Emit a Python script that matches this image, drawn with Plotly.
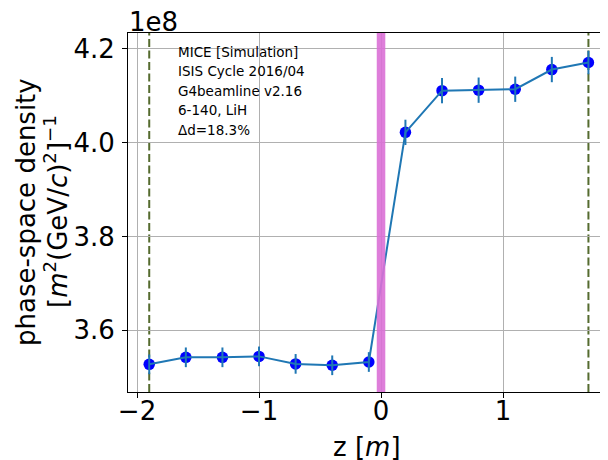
import plotly.graph_objects as go

# Data (phase-space density in units of 1e8)
z = [-1.9, -1.6, -1.3, -1.0, -0.7, -0.4, -0.1, 0.2, 0.5, 0.8, 1.1, 1.4, 1.7]
density = [3.527, 3.542, 3.542, 3.544, 3.528, 3.525, 3.532, 4.022, 4.111, 4.112, 4.114, 4.156, 4.171]
density_err = [0.021, 0.021, 0.021, 0.021, 0.021, 0.021, 0.021, 0.027, 0.027, 0.027, 0.027, 0.027, 0.025]
ref_planes = [-1.9, 1.7]
absorber = [-0.035, 0.035]
info_lines = ["MICE [Simulation]", "ISIS Cycle 2016/04", "G4beamline v2.16", "6-140, LiH", "Δd=18.3%"]
x_ticks = [-2, -1, 0, 1]
y_ticks = [3.6, 3.8, 4.0, 4.2]

OFF = 8  # page body margin
W, H = 608 - OFF, 460 - OFF
L, R, T, B = 128 - OFF, 2, 33 - OFF, 68
pw, ph = W - L - R, H - T - B
FONT = "DejaVu Sans"
C0 = "#1f77b4"

def px(xp):
    return (xp - OFF - L) / pw

def py(yp):
    return (H - B - (yp - OFF)) / ph

fig = go.Figure()
fig.add_trace(go.Scatter(x=z, y=density, mode="markers",
                         marker=dict(color="#0000ff", size=11.5, line=dict(width=0)),
                         showlegend=False))
fig.add_trace(go.Scatter(x=z, y=density, mode="lines",
                         line=dict(color=C0, width=2),
                         error_y=dict(type="data", array=density_err, color=C0, thickness=2, width=0),
                         showlegend=False))

shapes = []
for zp in ref_planes:
    shapes.append(dict(type="line", xref="x", yref="paper", x0=zp, x1=zp, y0=0, y1=1,
                       line=dict(color="#556b2f", width=2, dash="8px,3.5px"), layer="between"))
shapes.append(dict(type="rect", xref="x", yref="paper", x0=absorber[0], x1=absorber[1], y0=0, y1=1,
                   fillcolor="#da70d6", line=dict(width=0), layer="above", opacity=0.9))

annotations = []
ys = [51.5, 71, 90.5, 110, 129.5]
for t, yy in zip(info_lines, ys):
    annotations.append(dict(text=t, xref="paper", yref="paper", x=px(176), y=py(yy),
                            xanchor="left", yanchor="middle", showarrow=False,
                            font=dict(family=FONT, size=13.5, color="black")))
annotations.append(dict(text="1e8", xref="paper", yref="paper", x=px(127), y=py(22),
                        xanchor="left", yanchor="middle", showarrow=False,
                        font=dict(family=FONT, size=26, color="black")))
annotations.append(dict(text="phase-space density", xref="paper", yref="paper", x=px(26), y=py(212),
                        xanchor="center", yanchor="middle", textangle=-90, showarrow=False,
                        font=dict(family=FONT, size=26, color="black")))
annotations.append(dict(text="[<i>m</i><sup>2</sup>(GeV/<i>c</i>)<sup>2</sup>]<sup>−1</sup>",
                        xref="paper", yref="paper", x=px(56), y=py(212),
                        xanchor="center", yanchor="middle", textangle=-90, showarrow=False,
                        font=dict(family=FONT, size=26, color="black")))
annotations.append(dict(text="z [<i>m</i>]", xref="paper", yref="paper", x=px(367), y=py(447),
                        xanchor="center", yanchor="middle", showarrow=False,
                        font=dict(family=FONT, size=26, color="black")))

fig.update_layout(
    width=W, height=H,
    margin=dict(l=L, r=R, t=T, b=B),
    paper_bgcolor="white", plot_bgcolor="white",
    font=dict(family=FONT, size=26, color="black"),
    shapes=shapes, annotations=annotations,
    xaxis=dict(range=[-2.074, 1.844], tickvals=x_ticks, ticktext=[str(v).replace("-", "−") for v in x_ticks],
               showgrid=True, gridcolor="#b0b0b0", gridwidth=1, zeroline=False,
               showline=True, linecolor="black", linewidth=1, mirror=True,
               ticks="outside", ticklen=5, tickcolor="black", tickfont=dict(size=26),
               ticklabelstandoff=-9, automargin=False),
    yaxis=dict(range=[3.468, 4.234], tickvals=y_ticks, ticktext=["%.1f" % v for v in y_ticks],
               showgrid=True, gridcolor="#b0b0b0", gridwidth=1, zeroline=False,
               showline=True, linecolor="black", linewidth=1, mirror=True,
               ticks="outside", ticklen=5, tickcolor="black", tickfont=dict(size=26),
               ticklabelstandoff=2, automargin=False),
)

fig.write_html("out.html")
